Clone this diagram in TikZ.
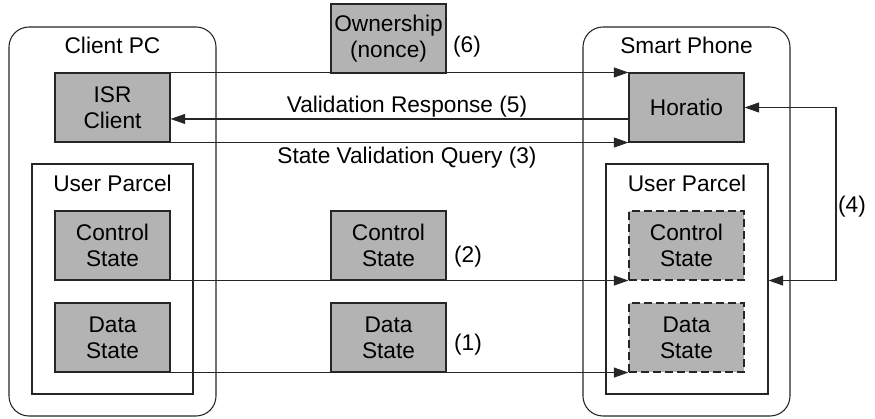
\documentclass[tikz,border=0pt]{standalone}
\usepackage{fontspec}
\setmainfont{Liberation Sans}
\usetikzlibrary{arrows.meta}
\definecolor{boxgray}{HTML}{B3B3B3}
\definecolor{edge}{HTML}{262626}
\begin{document}
\begin{tikzpicture}[x=0.75pt,y=-0.75pt,
  font=\fontsize{17}{19.5}\selectfont,
  line width=0.8pt, draw=edge,
  statebox/.style={draw=edge, fill=boxgray, minimum width=86.25pt, minimum height=51.75pt, inner sep=0pt, align=center},
  dashbox/.style={statebox, dash pattern=on 6pt off 3pt},
  device/.style={draw=edge, rounded corners=15pt, minimum width=155.25pt, minimum height=291.75pt, inner sep=0pt},
  parcel/.style={draw=edge, minimum height=172.5pt, inner sep=0pt},
  tag/.style={inner sep=0pt, align=center},
  flow/.style={-{Triangle[length=11pt,width=7.5pt]}},
]
\useasboundingbox (0,0) rectangle (875,418);

% devices and their parcels
\node[device] (pc) at (112.5,221.5) {};
\node[tag] (pclbl) at (112.5,45) {Client PC};
\node[parcel, minimum width=120.75pt] (upL) at (112.5,279) {};
\node[tag] (upLlbl) at (112.5,183) {User Parcel};

\node[device] (ph) at (686.5,221.5) {};
\node[tag] (phlbl) at (686.5,45) {Smart Phone};
\node[parcel, minimum width=121.5pt] (upR) at (687,279) {};
\node[tag] (upRlbl) at (687,183) {User Parcel};

% components
\node[statebox] (isr) at (112.5,107.5) {ISR\\Client};
\node[statebox] (ctrlL) at (112.5,245.5) {Control\\State};
\node[statebox] (dataL) at (112.5,337.5) {Data\\State};

\node[statebox] (own) at (388.5,38.5) {Ownership\\(nonce)};
\node[statebox] (ctrlM) at (388.5,245.5) {Control\\State};
\node[statebox] (dataM) at (388.5,337.5) {Data\\State};

\node[statebox] (hor) at (686.5,107.5) {Horatio};
\node[dashbox] (ctrlR) at (686.5,245.5) {Control\\State};
\node[dashbox] (dataR) at (686.5,337.5) {Data\\State};

% messages
\draw[flow] (isr.north east) -- (hor.north west);
\draw[flow] ([yshift=-8.6pt]hor.west) -- ([yshift=-8.6pt]isr.east);
\draw[flow] (isr.south east) -- (hor.south west);
\draw[flow] (ctrlL.south east) -- (ctrlR.south west);
\draw[flow] (dataL.south east) -- (dataR.south west);

\coordinate (c4) at (836,107.5);
\draw[{Triangle[length=11pt,width=7.5pt]}-{Triangle[length=11pt,width=7.5pt]}]
  (hor.east) -- (c4) |- (upR.east |- ctrlR.south);

% labels
\node[tag] (l5) at (407,107) {Validation Response (5)};
\node[tag] (l3) at (407,158) {State Validation Query (3)};
\node[tag] (l6) at (467,47) {(6)};
\node[tag] (l2) at (468,257) {(2)};
\node[tag] (l1) at (468,345) {(1)};
\node[tag] (l4) at (852,207) {(4)};
\end{tikzpicture}
\end{document}
